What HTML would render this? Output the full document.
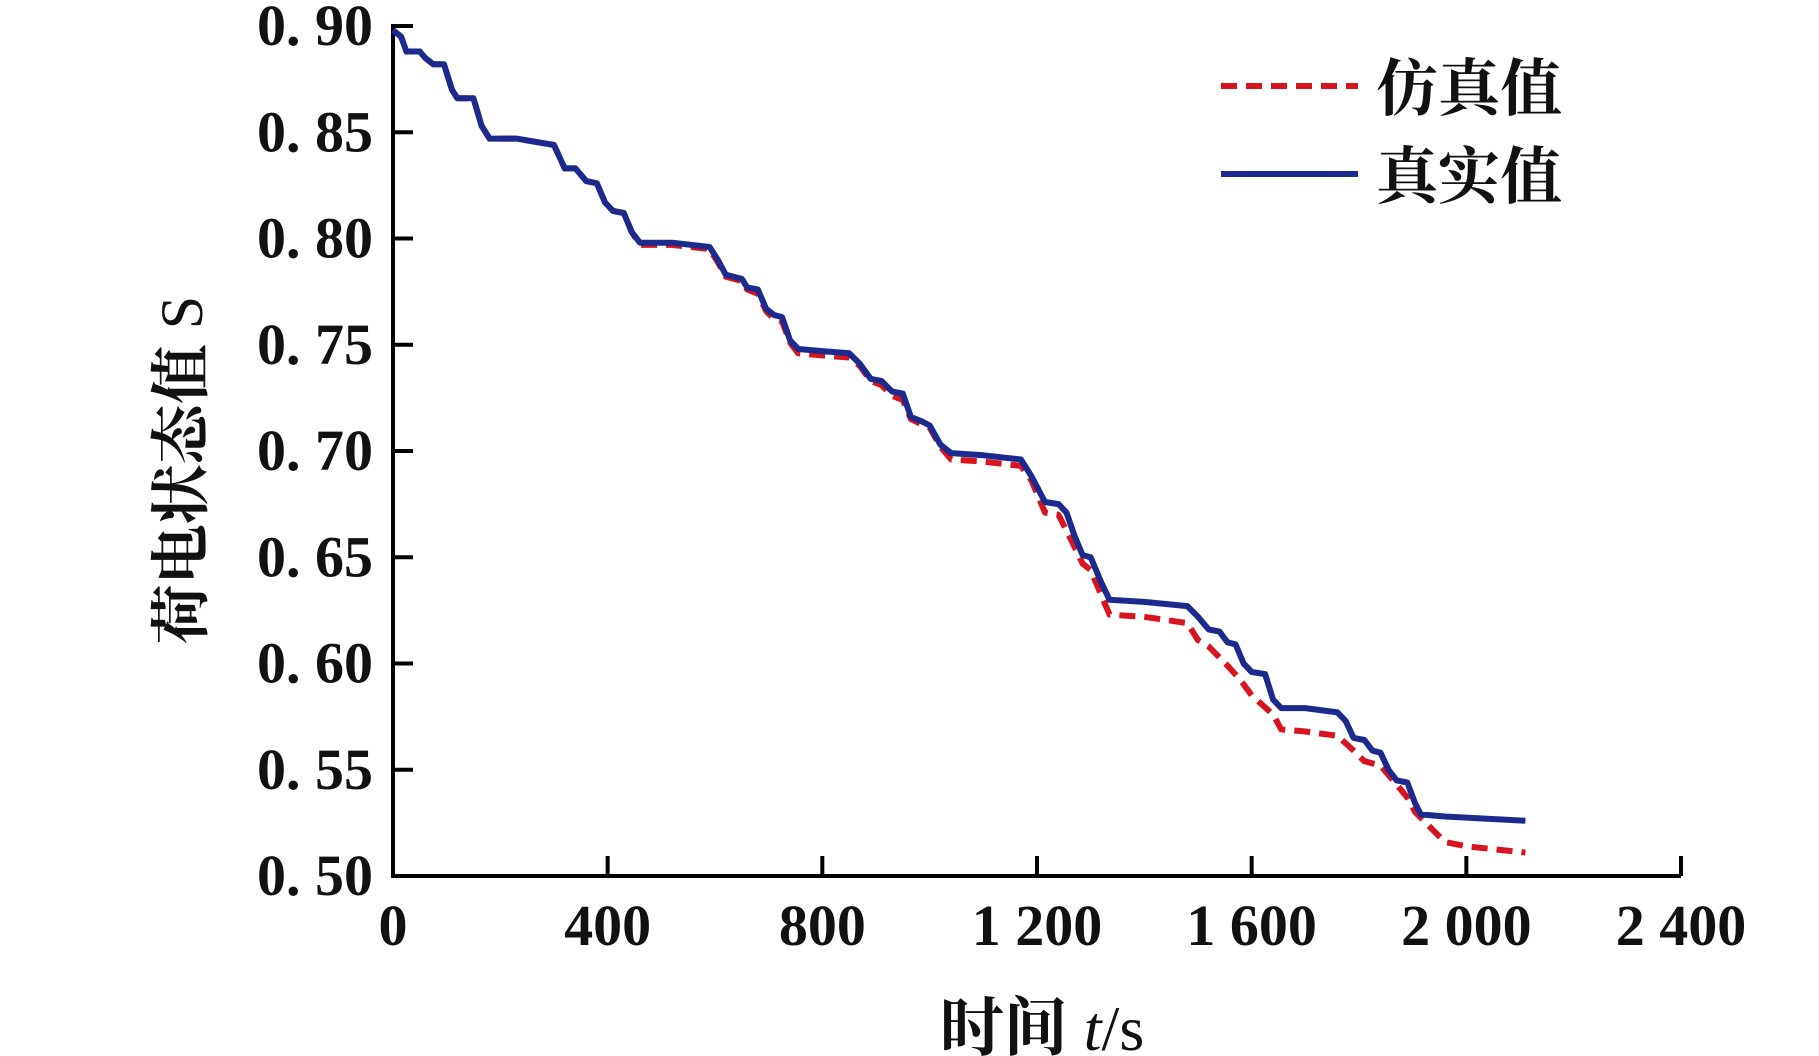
<!DOCTYPE html>
<html><head><meta charset="utf-8"><style>
html,body{margin:0;padding:0;background:#fff;}
svg{display:block;}
text{font-family:"Liberation Serif","Noto Serif CJK SC",serif;fill:#111;}
</style></head><body>
<svg id="chart" width="1819" height="1056" viewBox="0 0 1819 1056">
<g id="axes"></g>
<g id="series"></g>
<g>
 <line x1="1221" y1="86" x2="1358" y2="86" stroke="#d7141f" stroke-width="6" stroke-dasharray="16,9"/>
 <text x="1376" y="110" font-size="62" font-weight="bold" font-family="Noto Serif CJK SC, serif">仿真值</text>
 <line x1="1221" y1="174" x2="1358" y2="174" stroke="#1b2a8c" stroke-width="6"/>
 <text x="1376" y="198" font-size="62" font-weight="bold" font-family="Noto Serif CJK SC, serif">真实值</text>
</g>
<text x="1042" y="1050" font-size="64" text-anchor="middle"><tspan font-family="Noto Serif CJK SC, serif" font-weight="bold">时间 </tspan><tspan font-style="italic">t</tspan>/s</text>
<text transform="translate(202,470) rotate(-90)" font-size="60" text-anchor="middle"><tspan font-family="Noto Serif CJK SC, serif" font-weight="bold">荷电状态值 </tspan>S</text>
</svg>
<script>
const xTicks=[0,400,800,1200,1600,2000,2400];
const xTickLabels=["0","400","800","1 200","1 600","2 000","2 400"];
const yTicks=[0.50,0.55,0.60,0.65,0.70,0.75,0.80,0.85,0.90];
const yTickLabels=["0. 50","0. 55","0. 60","0. 65","0. 70","0. 75","0. 80","0. 85","0. 90"];
const realT=[0,15,25,50,60,75,95,110,120,150,165,180,230,300,320,340,360,380,395,410,430,445,460,520,590,605,620,650,660,680,695,710,725,740,755,800,850,870,890,910,930,950,965,985,1000,1020,1040,1100,1170,1190,1215,1240,1255,1270,1285,1300,1320,1335,1400,1480,1500,1520,1540,1555,1570,1585,1600,1625,1640,1655,1700,1760,1775,1790,1810,1825,1840,1855,1870,1890,1905,1915,1960,2110];
const realV=[0.898,0.895,0.888,0.888,0.885,0.882,0.882,0.870,0.866,0.866,0.853,0.847,0.847,0.844,0.833,0.833,0.827,0.826,0.817,0.813,0.812,0.803,0.798,0.798,0.796,0.790,0.783,0.781,0.777,0.776,0.767,0.764,0.763,0.752,0.748,0.747,0.746,0.741,0.734,0.733,0.728,0.727,0.716,0.714,0.712,0.703,0.699,0.698,0.696,0.688,0.676,0.675,0.671,0.660,0.651,0.650,0.638,0.630,0.629,0.627,0.622,0.616,0.615,0.610,0.609,0.600,0.596,0.595,0.583,0.579,0.579,0.577,0.573,0.565,0.564,0.559,0.558,0.550,0.545,0.544,0.534,0.529,0.528,0.526];
const simT=[0,15,25,50,60,75,95,110,120,150,165,180,230,300,320,340,360,380,395,410,430,445,460,520,590,605,620,650,660,680,695,710,725,740,755,800,850,870,890,910,930,950,965,990,1000,1020,1040,1100,1170,1190,1215,1240,1260,1285,1300,1335,1400,1480,1500,1520,1555,1580,1600,1640,1655,1700,1760,1790,1810,1840,1870,1890,1905,1960,2000,2110];
const simV=[0.898,0.895,0.888,0.888,0.885,0.882,0.882,0.870,0.866,0.866,0.853,0.847,0.847,0.844,0.833,0.833,0.827,0.826,0.817,0.813,0.812,0.803,0.797,0.797,0.795,0.789,0.782,0.780,0.776,0.774,0.766,0.762,0.761,0.751,0.746,0.745,0.744,0.740,0.733,0.731,0.726,0.724,0.715,0.712,0.711,0.702,0.696,0.695,0.693,0.686,0.671,0.670,0.660,0.647,0.644,0.623,0.622,0.619,0.611,0.608,0.599,0.592,0.585,0.576,0.569,0.568,0.566,0.559,0.554,0.552,0.543,0.537,0.530,0.516,0.514,0.511];
const X0=393,X1=1681,Y0=876,Y1=26;
const xs=t=>X0+(t-0)/(2400-0)*(X1-X0);
const ys=v=>Y0-(v-0.5)/(0.9-0.5)*(Y0-Y1);
const NS="http://www.w3.org/2000/svg";
const axes=document.getElementById('axes'),series=document.getElementById('series');
function mk(tag,attrs,parent){const e=document.createElementNS(NS,tag);for(const k in attrs)e.setAttribute(k,attrs[k]);parent.appendChild(e);return e;}
let e=mk('path',{d:`M${X0},${Y1-2} V${Y0} H${X1}`,fill:'none',stroke:'#000','stroke-width':4},axes);


xTicks.forEach((t,i)=>{
 const l=mk('line',{x1:xs(t),x2:xs(t),y1:Y0,y2:Y0-20,stroke:'#000','stroke-width':4},axes);
 
 
 const tx=mk('text',{x:xs(t),y:945,'font-size':58,'font-weight':'bold','text-anchor':'middle'},axes);
 tx.textContent=xTickLabels[i];
 
 
});
yTicks.forEach((v,i)=>{
 const l=mk('line',{x1:X0,x2:X0+20,y1:ys(v),y2:ys(v),stroke:'#000','stroke-width':4},axes);
 
 
 const tx=mk('text',{x:373,y:ys(v)+19,'font-size':58,'font-weight':'bold','text-anchor':'end'},axes);
 tx.textContent=yTickLabels[i];
 
 
});
function pathOf(T,V){return T.map((t,i)=>(i?'L':'M')+xs(t).toFixed(1)+','+ys(V[i]).toFixed(1)).join(' ');}
const sp=mk('path',{d:pathOf(simT,simV),fill:'none',stroke:'#d7141f','stroke-width':6,'stroke-dasharray':'16,9','stroke-linejoin':'round'},series);


const rp=mk('path',{d:pathOf(realT,realV),fill:'none',stroke:'#1b2a8c','stroke-width':6,'stroke-linejoin':'round'},series);


</script>
</body></html>
